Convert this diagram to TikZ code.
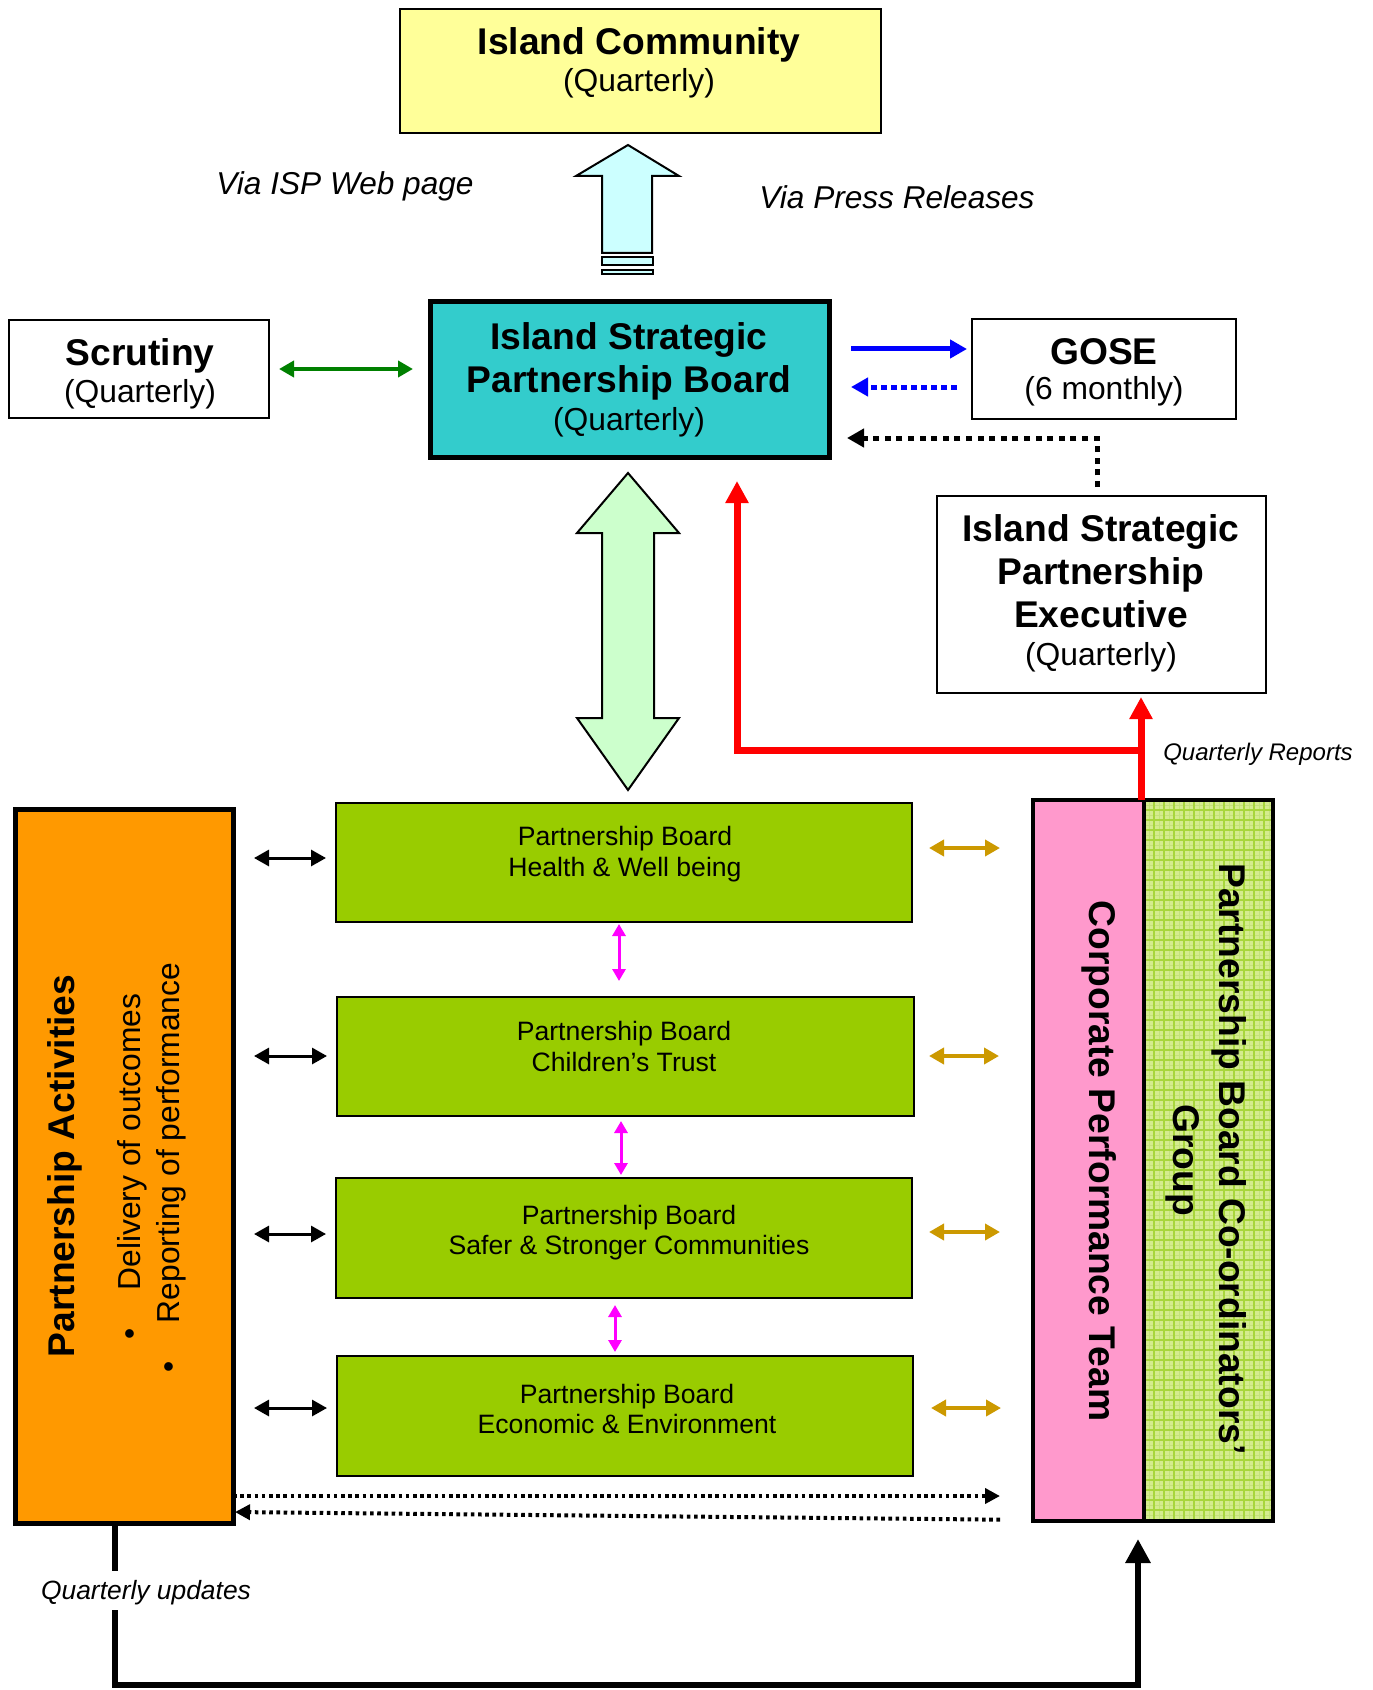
\documentclass[tikz,border=0pt]{standalone}
\usepackage{fontspec}
\setmainfont{Liberation Sans}
\usetikzlibrary{arrows.meta,calc}
\definecolor{commY}{HTML}{FFFF99}
\definecolor{ispC}{HTML}{33CCCC}
\definecolor{viaC}{HTML}{CCFFFF}
\definecolor{dblG}{HTML}{CCFFCC}
\definecolor{boardG}{HTML}{99CC00}
\definecolor{orangeP}{HTML}{FF9900}
\definecolor{pinkC}{HTML}{FF99CC}
\definecolor{coordG}{HTML}{D5EC8E}
\definecolor{gridG}{HTML}{A8D63C}
\definecolor{gridL}{HTML}{C4E27A}
\definecolor{goldA}{HTML}{CC9900}
\definecolor{greenA}{HTML}{008000}
\definecolor{blueA}{HTML}{0000FF}
\definecolor{redA}{HTML}{FF0000}
\definecolor{magA}{HTML}{FF00FF}
\newcommand\fTitle{\fontsize{18.6pt}{21pt}\selectfont\bfseries}
\newcommand\fReg{\fontsize{15.9pt}{19pt}\selectfont}
\newcommand\fVia{\fontsize{15.8pt}{19pt}\selectfont\itshape}
\newcommand\fBoard{\fontsize{13.3pt}{16pt}\selectfont}
\newcommand\fSmallIt{\fontsize{13.2pt}{16pt}\selectfont\itshape}
\newcommand\fRep{\fontsize{12pt}{14pt}\selectfont\itshape}
\begin{document}
\begin{tikzpicture}[x=0.5pt,y=-0.5pt,
  every node/.style={inner sep=0pt, outer sep=0pt},
  boxst/.style={draw, line width=#1},
  tt/.style={font=\fTitle, text height=13.4pt, text depth=0pt},
  rg/.style={font=\fReg, text height=11.4pt, text depth=0pt},
  bt/.style={font=\fBoard, text height=9.6pt, text depth=0pt},
  vt/.style={font=\fVia, text height=11.4pt, text depth=0pt},
  ttr/.style={font=\fTitle},
  rgr/.style={font=\fReg},
  smallarrow/.style={line width=1.5pt, {Triangle[length=7.5pt,width=8pt]}-{Triangle[length=7.5pt,width=8pt]}},
  goldarrow/.style={goldA, line width=2pt, {Triangle[length=7.5pt,width=8pt]}-{Triangle[length=7.5pt,width=8pt]}},
  magarrow/.style={magA, line width=1.5pt, {Triangle[length=6pt,width=6.5pt]}-{Triangle[length=6pt,width=6.5pt]}},
  dotline/.style={line width=2pt, dash pattern=on 1.8pt off 1.8pt, -{Triangle[length=7.5pt,width=7.5pt]}},
  redline/.style={redA, line width=3.5pt, -{Triangle[length=11pt,width=11pt]}},
]
\useasboundingbox (0,0) rectangle (1372,1690);
\fill[white] (0,0) rectangle (1372,1690);

% ---------------- boxes ----------------
\node[boxst=1pt, fill=commY, minimum width=240.5pt, minimum height=62pt] (comm) at (640.5,71) {};
\node[boxst=2.5pt, fill=ispC, minimum width=199.5pt, minimum height=77.5pt] (isp) at (629.5,379.5) {};
\node[boxst=0.9pt, fill=white, minimum width=130pt, minimum height=49pt] (scr) at (139,369) {};
\node[boxst=0.9pt, fill=white, minimum width=132pt, minimum height=50pt] (gose) at (1104,369) {};
\node[boxst=0.9pt, fill=white, minimum width=164.5pt, minimum height=98.5pt] (ispe) at (1101.5,594.5) {};

\node[boxst=1pt, fill=boardG, minimum width=288pt, minimum height=59.5pt] (b1) at (624,862.5) {};
\node[boxst=1pt, fill=boardG, minimum width=288.5pt, minimum height=59.5pt] (b2) at (625.5,1056.5) {};
\node[boxst=1pt, fill=boardG, minimum width=288pt, minimum height=60pt] (b3) at (624,1238) {};
\node[boxst=1pt, fill=boardG, minimum width=288pt, minimum height=60pt] (b4) at (625,1416) {};

\node[boxst=2.5pt, fill=orangeP, minimum width=109pt, minimum height=357pt] (pa) at (124,1166) {};
\node[boxst=2pt, fill=pinkC, minimum width=55.5pt, minimum height=360.5pt] (cpt) at (1088.5,1160.5) {};
\node[fill=coordG, minimum width=64.5pt, minimum height=360.5pt] (pbc) at (1208.5,1160.5) {};
\begin{scope}
  \clip (pbc.north west) rectangle (pbc.south east);
  \foreach \gx in {1149,1159,...,1279} \draw[gridL, line width=0.4pt] (\gx,800) -- (\gx,1521);
  \foreach \gy in {805,815,...,1525} \draw[gridL, line width=0.4pt] (1144,\gy) -- (1273,\gy);
  \foreach \gx in {1154,1164,...,1274} \draw[gridG, line width=0.6pt] (\gx,800) -- (\gx,1521);
  \foreach \gy in {810,820,...,1520} \draw[gridG, line width=0.6pt] (1144,\gy) -- (1273,\gy);
\end{scope}
\draw[line width=2pt] (pbc.north west) rectangle (pbc.south east);

% ---------------- texts ----------------
\node[tt] (commT) at (639,41) {Island Community};
\node[rg] (commQ) at (639,80) {(Quarterly)};
\node[tt] (ispT1) at (629,336) {Island Strategic};
\node[tt] (ispT2) at (629,379) {Partnership Board};
\node[rg] (ispQ) at (629,419) {(Quarterly)};
\node[tt] (scrT) at (140,352) {Scrutiny};
\node[rg] (scrQ) at (140,391) {(Quarterly)};
\node[tt] (goseT) at (1104,351) {GOSE};
\node[rg] (goseQ) at (1104,388) {(6 monthly)};
\node[tt] (ispeT1) at (1101,528) {Island Strategic};
\node[tt] (ispeT2) at (1101,571) {Partnership};
\node[tt] (ispeT3) at (1101,614) {Executive};
\node[rg] (ispeQ) at (1101,654) {(Quarterly)};
\node[vt] (via1) at (345,183) {Via ISP Web page};
\node[vt] (via2) at (897,197) {Via Press Releases};

\node[bt] (b1a) at (625,836) {Partnership Board};
\node[bt] (b1b) at (625,867) {Health \& Well being};
\node[bt] (b2a) at (624,1031) {Partnership Board};
\node[bt] (b2b) at (624,1062) {Children’s Trust};
\node[bt] (b3a) at (629,1215) {Partnership Board};
\node[bt] (b3b) at (629,1245) {Safer \& Stronger Communities};
\node[bt] (b4a) at (627,1394) {Partnership Board};
\node[bt] (b4b) at (627,1424) {Economic \& Environment};

\node[tt, rotate=90] (paT) at (61,1166) {Partnership Activities};
\node[rg, rotate=90] (paI1) at (129,1142) {Delivery of outcomes};
\node[rg, rotate=90] (paI2) at (168,1143) {Reporting of performance};
\node[rgr, rotate=90] (paB1) at (133,1334) {•};
\node[rgr, rotate=90] (paB2) at (172,1367) {•};

\node[ttr, rotate=-90] (cptT) at (1099,1161) {Corporate Performance Team};
\node[ttr, rotate=-90] (pbcT1) at (1229,1159) {Partnership Board Co-ordinators’};
\node[ttr, rotate=-90] (pbcT2) at (1183,1160) {Group};

\node[font=\fRep, text height=8.6pt, text depth=0pt] (qrep) at (1258,752) {Quarterly Reports};

% ---------------- big shape arrows ----------------
\draw[line width=1pt, fill=viaC, line join=miter] (602,253) -- (602,176) -- (576,176) -- (628,145) -- (679,176) -- (652,176) -- (652,253) -- cycle;
\draw[line width=1pt, fill=viaC] (602,257) rectangle (653,265);
\draw[line width=1pt, fill=viaC] (602,270) rectangle (653,274);

\draw[line width=1pt, fill=dblG, line join=miter] (628,473) -- (679,533) -- (654,533) -- (654,718) -- (679,718) -- (628,790) -- (577,718) -- (602,718) -- (602,533) -- (577,533) -- cycle;

% ---------------- connectors ----------------
\draw[greenA, line width=2pt, {Triangle[length=7.5pt,width=8pt]}-{Triangle[length=7.5pt,width=8pt]}, shorten <=5pt, shorten >=8.5pt]
  (scr.east |- 0,369) -- (isp.west |- 0,369);

\draw[blueA, line width=2.5pt, -{Triangle[length=8.5pt,width=9pt]}, shorten <=11pt, shorten >=2.5pt]
  (isp.east |- 0,349) -- (gose.west |- 0,349);
\draw[blueA, line width=2.5pt, dash pattern=on 3pt off 2pt, -{Triangle[length=8.5pt,width=9pt]}, shorten <=7.5pt, shorten >=11pt]
  (gose.west |- 0,387) -- (isp.east |- 0,387);

\draw[line width=2.5pt, dash pattern=on 3pt off 2.8pt, -{Triangle[length=8.5pt,width=9pt]}]
  ($(ispe.north)+(-4.5,-9)$) |- ($(isp.east)+(18,58.5)$);

\coordinate (rj) at ($(cpt.north east)+(-3,-50)$);
\draw[redline, shorten >=2pt] ($(cpt.north east)+(-3,0)$) -- (rj |- ispe.south);
\draw[redline, line join=miter] (rj) -| ($(isp.south)+(107.5,24)$);

% left black double arrows
\draw[smallarrow, shorten <=10.5pt, shorten >=5pt] (pa.east |- 0,858) -- (b1.west |- 0,858);
\draw[smallarrow, shorten <=10.5pt, shorten >=5pt] (pa.east |- 0,1056) -- (b2.west |- 0,1056);
\draw[smallarrow, shorten <=10.5pt, shorten >=5pt] (pa.east |- 0,1234) -- (b3.west |- 0,1234);
\draw[smallarrow, shorten <=10.5pt, shorten >=5pt] (pa.east |- 0,1408) -- (b4.west |- 0,1408);

% right gold double arrows
\draw[goldarrow, shorten <=8.5pt, shorten >=16.5pt] (b1.east |- 0,848) -- (cpt.west |- 0,848);
\draw[goldarrow, shorten <=7.5pt, shorten >=17pt] (b2.east |- 0,1056) -- (cpt.west |- 0,1056);
\draw[goldarrow, shorten <=8.5pt, shorten >=16.5pt] (b3.east |- 0,1232) -- (cpt.west |- 0,1232);
\draw[goldarrow, shorten <=9pt, shorten >=16pt] (b4.east |- 0,1408) -- (cpt.west |- 0,1408);

% magenta vertical arrows
\coordinate (m1) at ($(b1.south)+(-5,0)$);
\draw[magarrow, shorten <=1pt, shorten >=8pt] (m1) -- (m1 |- b2.north);
\coordinate (m2) at ($(b2.south)+(-4.5,0)$);
\draw[magarrow, shorten <=2.5pt, shorten >=1.5pt] (m2) -- (m2 |- b3.north);
\coordinate (m3) at ($(b3.south)+(-9,0)$);
\draw[magarrow, shorten <=3.5pt, shorten >=2pt] (m3) -- (m3 |- b4.north);

% bottom dotted arrows
\draw[dotline, shorten >=16.5pt] (pa.east |- 0,1496) -- (cpt.west |- 0,1496);
\draw[dotline, shorten <=16.5pt, shorten >=1pt] (cpt.west |- 0,1520) -- (pa.east |- 0,1512);

% bottom thick return path
\draw[line width=3pt, line join=miter, -{Triangle[length=12pt,width=12pt]}]
  ($(pa.south)+(-9,0)$) -- ++(0,162) -| ($(cpt.south east)+(-6,18)$);
\node[font=\fSmallIt, text height=9.5pt, text depth=0pt, fill=white, inner xsep=1pt, inner ysep=5pt] (qupd) at (146,1590) {Quarterly updates};
\end{tikzpicture}
\end{document}
